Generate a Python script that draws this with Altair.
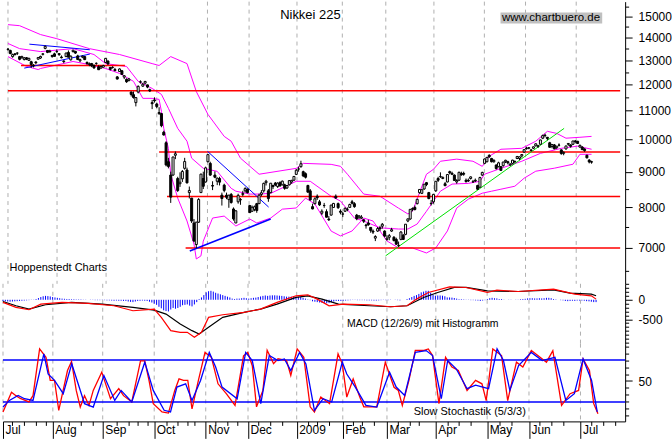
import altair as alt
import pandas as pd

# ---------------- daily Nikkei 225 candles (trading-day index 0 = 1 Jul 2008) -------------
op = [13480,13420,13150,13270,13300,13150,13100,13020,13100,12990,12930,12780,12920,13040,13090,13250,13510,13420,13390,13200,13270,13370,
      13280,13130,12960,13150,13330,13010,13370,13380,13180,12970,13130,13150,12900,12810,12850,12780,12860,12720,12660,12700,12900,
      12960,12690,12690,12600,12300,12520,12550,12290,12200,12150,11700,11600,11300,11700,12100,11930,12050,11980,11790,11300,
      11400,11250,10900,10900,10250,9900,9300,8900,8900,9500,8800,8650,8790,9100,9050,8400,8250,7600,7080,7620,8400,8800,
      8700,9300,9250,8600,8900,8720,8800,8330,8610,8330,8210,8350,7960,7600,8150,8200,8350,8450,
      8500,8050,7900,7950,8100,8100,8350,8450,8680,8450,8400,8600,8670,8570,8680,8620,8620,8530,8620,8700,8750,
      8920,9080,9150,9000,8940,8600,8450,8020,8100,8300,8150,7850,8050,7890,7700,7800,8000,8300,8100,
      7900,7830,7900,7950,8000,8150,8100,7800,7750,7720,7680,7550,7600,7490,7400,7230,7400,7480,7520,
      7400,7200,7250,7400,7250,7200,7060,7200,7300,7320,7650,7700,7950,8000,8100,8400,8380,8500,8680,8400,8100,
      8150,8450,8800,8850,8800,8650,8700,9000,8950,8900,8700,8750,8950,8950,8750,8750,8800,8700,8750,8600,8550,
      8900,9250,9300,9500,9400,9300,9200,9150,9150,9180,9300,9300,9200,9250,9300,9400,9400,9480,
      9600,9720,9720,9650,9720,9800,9800,9850,10050,10150,10080,9900,9780,9830,9740,9820,9670,9560,9700,9850,9830,9850,
      9960,9950,9760,9760,9700,9500,9350,9300]
hi = [13530,13450,13280,13300,13340,13180,13190,13130,13130,13100,12970,12830,12940,13130,13190,13300,13640,13430,13450,13230,13320,13460,
      13300,13200,12990,13320,13420,13200,13450,13400,13230,13060,13200,13180,12940,12900,12880,12800,12900,12780,12770,12800,13090,
      12980,12700,12740,12670,12330,12650,12580,12370,12240,12260,11720,11720,11510,11960,12160,12060,12140,11990,11830,11400,
      11500,11300,11130,10920,10300,9950,9420,9000,9450,9620,8850,8980,9050,9420,9120,8570,8250,7700,7630,8250,8940,9000,
      9150,9520,9300,8720,9010,8830,8850,8400,8650,8400,8340,8390,8000,7930,8370,8250,8450,8550,
      8510,8060,8050,8050,8120,8370,8470,8680,8760,8500,8670,8620,8700,8690,8720,8740,8650,8610,8750,8760,8870,
      9080,9150,9330,9030,8980,8620,8500,8100,8270,8350,8200,7950,8120,7950,7780,8070,8120,8350,8130,
      7950,7880,8000,8000,8100,8200,8140,7830,7800,7800,7700,7580,7680,7500,7440,7300,7500,7530,7600,
      7420,7300,7330,7480,7280,7240,7150,7400,7330,7570,7710,7960,8000,8050,8230,8500,8500,8640,8700,8420,8200,
      8360,8730,8850,8980,8860,8700,8920,9030,9000,8920,8780,9000,9000,9000,8800,8800,8860,8760,8800,8620,8850,
      9000,9400,9450,9530,9420,9380,9220,9300,9170,9300,9360,9330,9260,9360,9340,9480,9460,9530,
      9690,9770,9760,9700,9780,9880,9830,10000,10170,10200,10090,9930,9860,9860,9800,9880,9690,9620,9800,9890,9850,9960,
      9990,9960,9840,9790,9720,9520,9380,9330]
lo = [13410,13250,13100,13200,13220,12990,13060,12990,13000,12960,12670,12690,12820,13020,13050,13200,13470,13300,13330,13100,13150,13310,
      13180,13070,12870,13130,13120,12980,13330,13270,13000,12910,13080,13000,12800,12740,12700,12640,12800,12590,12640,12690,12880,
      12800,12560,12640,12530,12200,12500,12380,12210,12060,12120,11530,11450,11160,11650,12030,11900,12000,11850,11700,11060,
      11300,11100,10850,10420,10140,9160,9100,8120,8880,9380,8420,8560,8700,9060,8660,8240,7600,7140,6990,7600,8390,8500,
      8680,9280,8880,8470,8810,8610,8600,8050,8410,8220,7990,8100,7660,7600,8100,8070,8300,8400,
      8380,7860,7880,7900,7860,8090,8300,8400,8600,8150,8380,8500,8580,8530,8570,8600,8480,8500,8600,8650,8740,
      8900,9000,9120,8840,8800,8400,8180,7950,8080,8200,8040,7800,7990,7740,7650,7790,7990,8230,7960,
      7820,7750,7880,7900,7990,8080,7990,7670,7700,7700,7600,7460,7530,7360,7330,7160,7380,7400,7460,
      7250,7170,7180,7380,7150,7070,7020,7180,7190,7300,7620,7680,7900,7920,8080,8370,8360,8480,8580,8220,8050,
      8100,8420,8700,8820,8780,8580,8690,8920,8900,8740,8650,8740,8880,8880,8680,8700,8770,8680,8700,8480,8540,
      8870,9230,9280,9420,9280,9270,9060,9130,9020,9150,9260,9220,9170,9220,9260,9380,9350,9430,
      9580,9680,9690,9620,9700,9780,9730,9840,10020,10080,9980,9740,9720,9690,9700,9780,9520,9500,9680,9800,9740,9830,
      9880,9860,9740,9660,9610,9400,9250,9240]
cl = [13463,13286,13238,13237,13300,13033,13147,13097,13039,13074,12811,12760,12887,13112,13157,13270,13603,13334,13353,13159,13160,13376,
      13237,13102,12934,13304,13124,13169,13430,13304,13023,13020,13166,13020,12852,12849,12752,12666,12859,12593,12724,12769,13073,
      12834,12609,12689,12557,12212,12625,12400,12346,12103,12215,11609,11490,11489,11921,12091,12006,12116,11893,11744,11260,
      11368,11154,10938,10473,10156,9203,9157,8276,9447,9548,8458,8693,9005,9306,8674,8460,7649,7163,7621,8211,8927,8577,
      9115,9521,8899,8583,8837,8810,8695,8239,8462,8273,8329,8131,7704,7911,8324,8213,8374,8512,
      8398,7864,8004,8016,7918,8330,8396,8660,8721,8236,8665,8568,8612,8668,8588,8723,8518,8599,8740,8747,8860,
      9043,9080,9239,8876,8836,8413,8200,7960,8231,8257,8066,7901,8052,7746,7682,8062,8106,8251,7994,
      7874,7825,7978,7950,8077,8112,8020,7705,7779,7750,7645,7534,7557,7416,7376,7269,7462,7457,7568,
      7280,7230,7290,7434,7174,7087,7055,7377,7199,7570,7704,7950,7972,7946,8216,8488,8480,8637,8627,8236,8110,
      8352,8719,8749,8858,8832,8595,8917,8965,8925,8743,8742,8981,8907,8925,8712,8727,8847,8707,8726,8494,8828,
      8977,9385,9433,9452,9299,9340,9094,9266,9039,9290,9345,9265,9226,9348,9311,9462,9452,9523,
      9677,9705,9742,9669,9769,9866,9787,9992,10136,10136,10040,9753,9841,9704,9787,9827,9550,9591,9797,9877,9784,9958,
      9940,9876,9816,9680,9647,9421,9292,9288]

# ---------------- Bollinger bands ----------------
bb_up_i = [0,5,14,21,35,48,62,65,70,77,81,86,93,96,100,108,124,127,139,143,146,153,160,168,172,174,180,183,186,193,200,204,207,212,221,227,232,236,240,246,251]
bb_up_v = [14610,14560,14140,13950,13500,13240,12850,12770,13150,12850,11720,10870,10110,9950,9410,8925,9100,9250,9220,9160,8925,8360,8300,7980,7830,7900,8925,9070,9315,9380,9315,9160,9470,9690,9720,9950,10280,10210,10050,10080,10110]
bb_mid_i = [0,5,14,28,37,42,51,56,62,66,69,73,77,79,84,90,96,98,104,108,113,124,130,139,143,149,153,160,168,172,176,180,186,191,198,203,205,212,221,229,238,245,251]
bb_mid_v = [13730,13500,13370,13500,13240,12850,12730,12120,11840,11610,11090,10380,9950,9410,9100,9010,8520,8440,8360,8360,8380,8720,8720,8300,8170,7725,7650,7480,7450,7450,7575,7900,8440,8640,8660,8720,8925,9100,9315,9560,9720,9790,9690]
bb_lo_i = [0,8,13,14,28,35,42,48,54,58,62,65,66,67,69,70,73,77,80,81,83,84,88,93,98,104,107,113,118,124,128,132,139,143,148,153,157,163,168,174,180,184,189,193,198,204,208,212,218,222,227,235,243,246,251]
bb_lo_v = [13150,12730,12600,12645,12940,12810,12645,12440,12120,11460,11460,11420,10980,10380,9720,8925,8250,7650,7090,6750,6820,7160,7725,7775,7525,7700,7600,7725,7955,7985,8250,8090,7400,7283,7403,7725,7650,7163,7000,7000,6885,7000,7403,7983,8221,8384,8439,8495,8579,8809,9014,9104,9224,9531,9531]

# ---------------- support / resistance and trend lines ----------------
red_x1 = [0, 65, 68.4, 76.4, 5.6]
red_x2 = [263.3, 263.3, 263.3, 263.3, 50.3]
red_y = [11750, 9600, 8290, 7000, 12770]
blue_x1 = [9.2, 7.0, 85.8]
blue_x2 = [35.2, 35.2, 112.1]
blue_y1 = [13700, 12660, 9625]
blue_y2 = [13450, 13260, 8010]
blue2_x1 = [78.2]
blue2_x2 = [113.0]
blue2_y1 = [6930]
blue2_y2 = [7700]
green_x1 = [162.4]
green_x2 = [239.2]
green_y1 = [6820]
green_y2 = [10380]

# ---------------- MACD (12/26/9) ----------------
macd_i = [0,5.5,11,16,25,36,47,55,64,67,71,75,78,81,84,87,93,102,109,116,124,129,133,138,144,155,164,171,175,180,189,196,205,209,218,233,242,249,251]
macd_v = [-68,-196,-256,-111,-68,-94,-154,-282,-239,-452,-793,-836,-836,-964,-836,-452,-384,-324,-239,-68,102,128,17,-154,-111,-128,-179,-154,17,188,333,316,188,247,213,273,145,102,17]
sig_i = [0,5.5,11,18,29,42,55,64,69,75,80,83,87,93,102,109,116,124,129,135,142,155,164,171,178,184,191,196,205,218,233,240,249,251]
sig_v = [-43,-154,-239,-128,-68,-111,-196,-264,-367,-623,-793,-879,-708,-452,-324,-239,-111,60,102,17,-111,-154,-179,-154,60,188,316,316,230,213,256,171,145,102]
hist_v = [-30,-40,-45,-50,-45,-40,-35,-30,-25,-20,-15,-10,-5,5,20,45,70,90,100,95,85,70,
          60,50,40,30,25,20,20,15,15,10,10,10,5,5,0,-5,-5,-10,-10,-10,-5,
          -10,-15,-15,-20,-25,-20,-25,-25,-30,-30,-45,-55,-60,-45,-30,-25,-20,-25,-30,-50,
          -70,-100,-130,-180,-220,-270,-290,-300,-250,-210,-230,-210,-180,-140,-130,-120,-150,-170,-120,-60,20,60,
          120,190,220,230,210,180,160,140,120,100,80,60,30,20,30,30,40,50,
          40,30,40,50,55,70,85,100,110,100,110,115,115,110,105,100,90,80,80,80,85,
          80,75,70,50,30,10,-10,-40,-50,-60,-70,-80,-80,-90,-85,-60,-45,-30,-30,
          -30,-25,-20,-15,-10,-5,-5,-10,-10,-10,-10,-15,-15,-15,-20,-20,-15,-10,-5,
          -10,-10,-5,0,-5,-10,-15,0,0,20,40,70,100,120,150,190,210,230,230,180,130,
          100,110,110,105,90,60,60,55,45,30,15,15,10,5,-5,-10,-10,-15,-20,-30,-20,
          -10,20,40,50,40,35,20,20,5,0,5,5,0,5,5,15,20,25,
          35,40,40,35,35,40,35,40,50,50,40,20,10,0,-10,-15,-30,-35,-30,-25,-30,-20,
          -20,-20,-25,-35,-40,-50,-60,-60]

# ---------------- Slow Stochastik (5/3/3) ----------------
stk_i = [0,3.6,5.5,7.3,11,12.7,15.5,18.2,20,21.8,23.6,27.3,29,31,32.7,34.5,36.4,38.2,41.8,45.5,49,51,54.5,58.2,60,61.8,63.6,67.3,70,72.7,74.5,76.4,78.2,80,82.7,85.5,88.2,91,94.5,98.2,101.8,103.6,105.5,107.3,110,111.8,114.5,116.4,120,121.8,124.5,127.3,130,131.8,134.5,138.2,141.8,143.6,145.5,148.2,151,152.7,158.2,161.8,165.5,167.3,169,171.8,174.5,178.2,180,181.8,184.5,187.3,190,192.7,196.4,200,202.7,204.5,207.3,211,213.6,217.3,220,223.6,227.3,230,232.7,236.4,240,243.6,245.5,248.2,250,251.8]
stk_v = [5.6,34,29,25,20,29,96,84,51,51,8,65,78,36.5,12.7,29,15,36.5,62.7,24.6,39,29,20,79,79,51,17.5,5.6,4,36.5,53,51,51,10,51,91,84,46,32,15,86,91,72,13,36.5,94,75,82,79.4,58,96,84,13,5.6,27,17.5,89,74.6,27,53,27,13,13,77,41,36.5,15,51,94,94,96,86.5,17.5,84,70,65,36.5,51,46,22,96,86.5,22,77,70,93.6,84,77,93.6,15,31.8,36.5,81.7,65,17.5,3.2]
std_i = [0,2.7,6.4,9.1,12.7,17.3,19.1,21.8,25.5,29.1,31.8,34.5,38.2,42.7,47.3,50,54.5,60,63.6,68.2,70.9,73.6,77.3,80,83.6,87.3,90,92.7,99.1,102.7,105.5,109.1,112.7,116.4,119.1,121.8,125.5,128.2,131.8,135.5,139.1,143.6,145.5,149.1,153.6,158.2,163.6,166.4,170,174.5,179.1,181.8,185.5,188.2,191.8,196.4,200,205.5,209.1,211.8,214.5,218.2,223.6,228.2,233.6,238.2,241.8,245.5,249.1,251.5]
std_v = [12.7,22.2,29.4,24.6,22.2,89,60,51,31.8,74.6,46,17.5,12.7,58,22.2,36.5,20,77,36.5,8,5.6,41.3,46,22.2,50.8,91,70,41.3,24.6,91,79.4,17.5,86.5,79.4,81.7,65,91,74.6,8,24.6,19.9,77,60,41.3,15,12.7,62.7,41.3,29.4,91,93.6,86.5,24.6,79.4,67.5,39,44,39,96,79.4,36.5,72.2,91,79.4,84,22.2,31.8,81.7,50.8,5.6]
sto_levels = [80, 20]

# ---------------- axis ticks and labels ----------------
month_pos = [0, 21.1, 42.2, 64.0, 85.8, 103.7, 124.3, 143.8, 162.5, 183.2, 204.9, 222.6, 244.4]
month_lbl = ["Jul", "Aug", "Sep", "Oct", "Nov", "Dec", "2009", "Feb", "Mar", "Apr", "May", "Jun", "Jul"]
week_pos = [4, 9, 14, 18, 28, 33, 38, 48, 53, 57, 61, 69, 74, 78, 81, 90, 95, 99, 108, 113, 118, 129, 133, 138,
            148, 152, 157, 167, 172, 176, 188, 193, 198, 210, 215, 227, 232, 237, 249, 254, 259]
price_major = [7000, 8000, 9000, 10000, 11000, 12000, 13000, 14000, 15000]
price_minor = [6500, 7500, 8500, 9500, 10500, 11500, 12500, 13500, 14500, 15500]
macd_major = [0, -500]
macd_minor = [400, 300, 200, 100, -100, -200, -300, -400, -600, -700, -800, -900, -1000, -1100]
sto_major = [50]
sto_minor = [0, 10, 20, 30, 40, 60, 70, 80, 90, 100]

# ---------------- build ----------------
FONT = "Liberation Sans"
W = 624
H_PRICE, H_MACD, H_STO = 283, 60, 78
xs = alt.Scale(domain=[0, 263.3], nice=False, zero=False)
ys_p = alt.Scale(type="log", domain=[6220, 15760], nice=False)
ys_m = alt.Scale(domain=[-1126, 410], nice=False, zero=False)
ys_s = alt.Scale(domain=[-7.9, 103.6], nice=False, zero=False)

days = list(range(len(cl)))
price_df = pd.DataFrame({"d": days, "o": op, "h": hi, "l": lo, "c": cl})
hist_df = pd.DataFrame({"d": days, "v": hist_v})
grid_df = pd.DataFrame({"m": month_pos})
one = pd.DataFrame({"a": [0]})


def X(field, axis=None):
    return alt.X(f"{field}:Q", scale=xs, axis=axis)


def major_axis(values, expr):
    return alt.Axis(orient="right", values=values, title=None, grid=False, tickSize=7,
                    tickColor="black", domainColor="black", domainWidth=1, tickWidth=1,
                    labelColor="black", labelFont=FONT, labelFontSize=12, labelPadding=6,
                    labelOverlap=False, labelFlush=False, labelExpr=expr)


def minor_axis(values):
    return alt.Axis(orient="right", values=values, title=None, grid=False, tickSize=3.5,
                    tickColor="black", tickWidth=1, domain=False, labels=False)


GRID_COLOR = "#b0b0b0"


def grid_layer():
    return alt.Chart(grid_df).mark_rule(color=GRID_COLOR, strokeDash=[4, 4], strokeWidth=1).encode(x=X("m"))


def text(t, x, y, size=11):
    return alt.Chart(one).mark_text(text=t, align="left", baseline="middle", font=FONT,
                                    fontSize=size, color="black").encode(x=alt.value(x), y=alt.value(y))


# ---- price panel ----
pax_major = major_axis(price_major, "'' + datum.value")
pax_minor = minor_axis(price_minor)


def band(ii, vv, axis=None):
    df = pd.DataFrame({"d": ii, "v": vv})
    return alt.Chart(df).mark_line(color="#ff00ff", strokeWidth=1).encode(
        x=X("d"), y=alt.Y("v:Q", scale=ys_p, axis=axis))


red_df = pd.DataFrame({"x1": red_x1, "x2": red_x2, "y": red_y})
red = alt.Chart(red_df).mark_rule(color="#ff0000", strokeWidth=1.5).encode(
    x=X("x1"), x2="x2:Q", y=alt.Y("y:Q", scale=ys_p, axis=None))


def seg(x1, x2, y1, y2, color, width):
    df = pd.DataFrame({"x1": x1, "x2": x2, "y1": y1, "y2": y2})
    return alt.Chart(df).mark_rule(color=color, strokeWidth=width).encode(
        x=X("x1"), x2="x2:Q", y=alt.Y("y1:Q", scale=ys_p, axis=None), y2="y2:Q")


wick = alt.Chart(price_df).mark_rule(color="black", strokeWidth=1).encode(
    x=X("d"), y=alt.Y("l:Q", scale=ys_p, axis=pax_major), y2="h:Q")
body = alt.Chart(price_df).mark_bar(size=2.0, stroke="black", strokeWidth=1).encode(
    x=X("d"), y=alt.Y("o:Q", scale=ys_p, axis=None), y2="c:Q",
    fill=alt.condition("datum.c > datum.o", alt.value("white"), alt.value("black")))

badge = alt.Chart(one).mark_rect(color="#c0c0c0").encode(
    x=alt.value(499), x2=alt.value(601), y=alt.value(11), y2=alt.value(22))

price = alt.layer(
    grid_layer(),
    band(bb_up_i, bb_up_v, pax_minor), band(bb_mid_i, bb_mid_v), band(bb_lo_i, bb_lo_v),
    red,
    seg(blue_x1, blue_x2, blue_y1, blue_y2, "#0000ff", 1),
    seg(blue2_x1, blue2_x2, blue2_y1, blue2_y2, "#0000ff", 1.5),
    seg(green_x1, green_x2, green_y1, green_y2, "#00e000", 1),
    wick, body,
    text("Nikkei 225", 278, 13, 13),
    badge, text("www.chartbuero.de", 500.5, 16.5, 11.5),
    text("Hoppenstedt Charts", 6.5, 267.5, 11),
).resolve_axis(y="independent").properties(width=W, height=H_PRICE)

# ---- MACD panel ----
max_major = major_axis(macd_major, "'' + datum.value")
max_minor = minor_axis(macd_minor)
hist = alt.Chart(hist_df).mark_rule(color="#0000ff", strokeWidth=1).encode(
    x=X("d"), y=alt.Y("v:Q", scale=ys_m, axis=max_major), y2=alt.datum(0))
sig_line = alt.Chart(pd.DataFrame({"d": sig_i, "v": sig_v})).mark_line(color="black", strokeWidth=1.2).encode(
    x=X("d"), y=alt.Y("v:Q", scale=ys_m, axis=max_minor))
macd_line = alt.Chart(pd.DataFrame({"d": macd_i, "v": macd_v})).mark_line(color="#ff0000", strokeWidth=1.2).encode(
    x=X("d"), y=alt.Y("v:Q", scale=ys_m, axis=None))
macd = alt.layer(
    grid_layer(), hist, sig_line, macd_line,
    text("MACD (12/26/9) mit Histogramm", 345, 40, 10.5),
).resolve_axis(y="independent").properties(width=W, height=H_MACD)

# ---- Stochastic panel ----
lbl_list = ",".join("'" + s + "'" for s in month_lbl)
pos_list = ",".join(str(p) for p in month_pos)
x_major = alt.Axis(orient="bottom", values=month_pos, title=None, grid=False, tickSize=17,
                   tickColor="black", domainColor="black", labelColor="black", labelFont=FONT,
                   labelFontSize=12, labelAlign="left", labelBaseline="top", labelPadding=-14,
                   labelOffset=2, labelFlush=False, labelOverlap=False,
                   labelExpr=f"[{lbl_list}][indexof([{pos_list}], datum.value)]")
x_minor = alt.Axis(orient="bottom", values=week_pos, title=None, grid=False, tickSize=4,
                   tickColor="black", domain=False, labels=False)
sax_major = major_axis(sto_major, "'' + datum.value")
sax_minor = minor_axis(sto_minor)

sgrid = alt.Chart(grid_df).mark_rule(color=GRID_COLOR, strokeDash=[4, 4], strokeWidth=1).encode(x=X("m", x_major))
levels = alt.Chart(pd.DataFrame({"y": sto_levels})).mark_rule(color="#0000ff", strokeWidth=1.5).encode(
    y=alt.Y("y:Q", scale=ys_s, axis=sax_major))
k_line = alt.Chart(pd.DataFrame({"d": stk_i, "v": stk_v})).mark_line(color="#ff0000", strokeWidth=1.3).encode(
    x=X("d", x_minor), y=alt.Y("v:Q", scale=ys_s, axis=sax_minor))
d_line = alt.Chart(pd.DataFrame({"d": std_i, "v": std_v})).mark_line(color="#0000ff", strokeWidth=1.3).encode(
    x=X("d"), y=alt.Y("v:Q", scale=ys_s, axis=None))
sto = alt.layer(
    sgrid, levels, k_line, d_line,
    text("Slow Stochastik (5/3/3)", 412, 69, 11),
).resolve_axis(x="independent", y="independent").properties(width=W, height=H_STO)

chart = alt.vconcat(price, macd, sto, spacing=0, bounds="flush").configure_view(stroke=None).properties(
    padding={"left": 0, "right": 0, "top": 0, "bottom": 0})

chart.save("out.html", embed_options={"renderer": "svg", "actions": False})
